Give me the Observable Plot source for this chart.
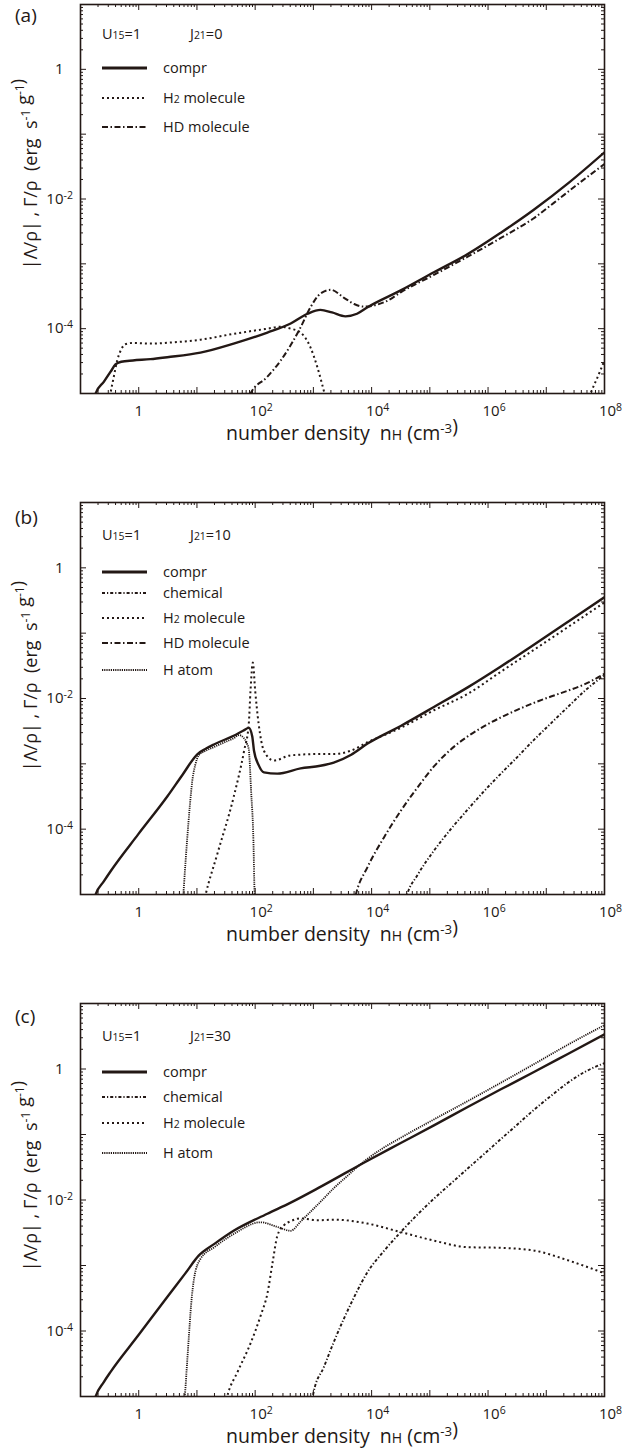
<!DOCTYPE html>
<html><head><meta charset="utf-8">
<script src="https://cdn.jsdelivr.net/npm/d3@7"></script>
<script src="https://cdn.jsdelivr.net/npm/@observablehq/plot@0.6"></script>
<style>
body{margin:0;background:#fff;}
#root{position:relative;width:630px;}
.panel{position:relative;width:630px;overflow:hidden;}
.panel svg{display:block;}
</style></head><body><div id="root"></div>
<script>
const INK = "#231815";
const FONT = "'Open Sans','Noto Sans',sans-serif";
const NS = "http://www.w3.org/2000/svg";

// axis ticks
const xDomain = [0.1, 1e8];
const yDomain = [1e-5, 10];
const xTickValues = [1, 1e2, 1e4, 1e6, 1e8];
const xTickLabels = ["1", "10^2", "10^4", "10^6", "10^8"];
const yTickValues = [1, 1e-2, 1e-4];
const yTickLabels = ["1", "10^-2", "10^-4"];

// ---- panel (a) : log10(n), log10(value)
const a_compr_n = [-0.80,-0.74,-0.60,-0.48,-0.40,-0.30,-0.10,0.20,0.49,1.06,1.63,2.21,2.61,2.90,3.12,3.32,3.55,3.75,3.93,4.50,5.07,5.65,6.22,6.78,7.40,8.0];
const a_compr_v = [-5.2,-5.0,-4.82,-4.66,-4.55,-4.51,-4.49,-4.47,-4.44,-4.37,-4.23,-4.06,-3.92,-3.77,-3.71,-3.75,-3.81,-3.77,-3.67,-3.41,-3.13,-2.85,-2.52,-2.17,-1.74,-1.28];
const a_h2_n = [-0.52,-0.485,-0.43,-0.37,-0.30,-0.23,-0.10,0.2,0.6,1.06,1.63,2.21,2.44,2.61,2.78,2.95,3.07,3.18,3.25];
const a_h2_v = [-5.2,-5.0,-4.75,-4.49,-4.32,-4.24,-4.22,-4.23,-4.21,-4.17,-4.08,-4.00,-3.97,-4.00,-4.06,-4.29,-4.60,-4.96,-5.2];
const a_h2hi_n = [7.68,7.76,7.88,8.0];
const a_h2hi_v = [-5.2,-5.0,-4.75,-4.49];
const a_hd_n = [1.85,1.92,2.20,2.44,2.78,2.95,3.12,3.30,3.52,3.70,3.86,4.05,4.27,4.50,5.07,5.65,6.22,6.78,7.13,7.5,8.0];
const a_hd_v = [-5.2,-5.0,-4.75,-4.49,-3.98,-3.67,-3.46,-3.40,-3.52,-3.62,-3.66,-3.64,-3.57,-3.44,-3.17,-2.89,-2.60,-2.30,-2.06,-1.80,-1.46];

// ---- panel (b)
const b_compr_n = [-0.80,-0.74,-0.60,-0.48,-0.01,0.49,0.75,1.01,1.15,1.30,1.63,1.80,1.89,1.95,1.98,2.06,2.15,2.38,2.78,3.12,3.35,3.65,3.93,4.50,5.07,5.65,6.22,6.78,7.40,8.0];
const b_compr_v = [-5.2,-5.0,-4.80,-4.64,-4.08,-3.50,-3.17,-2.85,-2.77,-2.70,-2.57,-2.49,-2.45,-2.58,-2.80,-3.02,-3.13,-3.15,-3.07,-3.03,-2.98,-2.86,-2.69,-2.42,-2.13,-1.83,-1.51,-1.18,-0.81,-0.45];
const b_hatom_n = [0.72,0.765,0.80,0.83,0.88,0.92,0.97,1.03,1.15,1.30,1.50,1.63,1.72,1.80,1.86,1.89,1.93,1.97,1.99,2.01];
const b_hatom_v = [-5.2,-5.0,-4.55,-4.18,-3.62,-3.26,-3.02,-2.87,-2.80,-2.74,-2.66,-2.61,-2.56,-2.60,-2.69,-2.78,-3.41,-4.18,-5.0,-5.3];
const b_h2_n = [1.10,1.15,1.35,1.63,1.81,1.89,1.92,1.96,2.00,2.06,2.15,2.32,2.61,3.12,3.35,3.64,3.93,4.50,5.07,5.65,6.22,6.78,7.40,8.0];
const b_h2_v = [-5.2,-5.0,-4.38,-3.51,-2.80,-2.39,-1.88,-1.45,-1.88,-2.39,-2.80,-2.95,-2.87,-2.85,-2.85,-2.80,-2.67,-2.45,-2.18,-1.93,-1.59,-1.26,-0.89,-0.53];
const b_hd_n = [3.68,3.73,3.93,4.21,4.50,4.79,5.07,5.36,5.65,5.92,6.22,6.51,6.78,7.08,7.37,7.64,8.0];
const b_hd_v = [-5.2,-5.0,-4.58,-4.13,-3.72,-3.36,-3.04,-2.78,-2.58,-2.43,-2.29,-2.17,-2.07,-1.97,-1.88,-1.79,-1.62];
const b_chem_n = [4.55,4.61,4.79,5.07,5.36,5.65,5.92,6.22,6.51,6.78,7.08,7.37,7.64,8.0];
const b_chem_v = [-5.2,-5.0,-4.70,-4.33,-4.00,-3.70,-3.43,-3.15,-2.89,-2.64,-2.38,-2.13,-1.90,-1.64];

// ---- panel (c)
const c_compr_n = [-0.80,-0.74,-0.60,-0.48,-0.01,0.49,0.80,1.03,1.30,1.63,2.21,2.61,3.12,3.93,4.50,5.07,5.65,6.22,6.78,7.37,8.0];
const c_compr_v = [-5.2,-5.0,-4.78,-4.62,-4.07,-3.48,-3.12,-2.85,-2.67,-2.47,-2.21,-2.04,-1.80,-1.40,-1.13,-0.86,-0.58,-0.31,-0.05,0.23,0.53];
const c_hatom_n = [0.74,0.79,0.83,0.86,0.90,0.95,1.06,1.30,1.63,2.09,2.38,2.61,2.78,2.95,3.12,3.35,3.60,3.80,3.93,4.21,4.50,5.07,5.65,6.22,6.78,7.37,8.0];
const c_hatom_v = [-5.2,-5.0,-4.5,-4.1,-3.6,-3.2,-2.90,-2.72,-2.52,-2.34,-2.41,-2.47,-2.33,-2.18,-2.03,-1.82,-1.62,-1.46,-1.37,-1.20,-1.05,-0.77,-0.49,-0.21,0.07,0.37,0.67];
const c_h2_n = [1.47,1.52,1.70,1.92,2.10,2.21,2.30,2.38,2.49,2.62,2.78,3.07,3.35,3.93,4.50,5.07,5.65,6.22,6.78,7.37,8.0];
const c_h2_v = [-5.2,-5.0,-4.62,-4.19,-3.75,-3.43,-2.95,-2.55,-2.39,-2.32,-2.28,-2.31,-2.30,-2.36,-2.49,-2.62,-2.72,-2.73,-2.77,-2.92,-3.12];
const c_chem_n = [2.97,3.00,3.18,3.35,3.52,3.69,3.93,4.21,4.50,4.79,5.07,5.36,5.65,5.93,6.22,6.50,6.78,7.08,7.37,7.65,8.0];
const c_chem_v = [-5.1,-4.95,-4.55,-4.17,-3.82,-3.50,-3.10,-2.78,-2.49,-2.22,-1.98,-1.75,-1.52,-1.30,-1.07,-0.85,-0.63,-0.41,-0.21,-0.05,0.09];

const STYLE = {
  compr:    {label: ["compr"],               w: 2.4, dash: null},
  chemical: {label: ["chemical"],            w: 1.9, dash: "3,2,1.2,2"},
  h2:       {label: ["H", "2", " molecule"], w: 2.0, dash: "2,3"},
  hd:       {label: ["HD molecule"],         w: 2.0, dash: "6,2.5,1.5,2.5"},
  hatom:    {label: ["H atom"],              w: 1.8, dash: "1.2,1"}
};

function table(ns, vs) { return ns.map((n, i) => ({n: 10 ** n, v: 10 ** vs[i]})); }

const panels = [
  {letter: "(a)", height: 500, mt: 4, mb: 107, J: "0", headerY: 34, letterY: 15, yTitleY: 174,
   series: [["hd", [table(a_hd_n, a_hd_v)]], ["h2", [table(a_h2_n, a_h2_v), table(a_h2hi_n, a_h2hi_v)]], ["compr", [table(a_compr_n, a_compr_v)]]],
   legend: ["compr", "h2", "hd"], legendY: [68, 98, 127]},
  {letter: "(b)", height: 500, mt: 2, mb: 106, J: "10", headerY: 35, letterY: 17, yTitleY: 176,
   series: [["chemical", [table(b_chem_n, b_chem_v)]], ["hd", [table(b_hd_n, b_hd_v)]], ["hatom", [table(b_hatom_n, b_hatom_v)]], ["h2", [table(b_h2_n, b_h2_v)]], ["compr", [table(b_compr_n, b_compr_v)]]],
   legend: ["compr", "chemical", "h2", "hd", "hatom"], legendY: [72, 93, 118, 143, 170]},
  {letter: "(c)", height: 453, mt: 3, mb: 57, J: "30", headerY: 36, letterY: 16, yTitleY: 176,
   series: [["chemical", [table(c_chem_n, c_chem_v)]], ["h2", [table(c_h2_n, c_h2_v)]], ["hatom", [table(c_hatom_n, c_hatom_v)]], ["compr", [table(c_compr_n, c_compr_v)]]],
   legend: ["compr", "chemical", "h2", "hatom"], legendY: [72, 97, 123, 153]}
];

const isDecade = d => Math.abs(Math.log10(d) - Math.round(Math.log10(d))) < 1e-9;
const allX = d3.scaleLog().domain(xDomain).ticks();
const allY = d3.scaleLog().domain(yDomain).ticks();
const majX = allX.filter(isDecade), minX = allX.filter(d => !isDecade(d));
const majY = allY.filter(isDecade), minY = allY.filter(d => !isDecade(d));

const W = 630, ML = 80, MR = 26;

function el(name, attrs, parent) {
  const e = document.createElementNS(NS, name);
  for (const k in attrs) e.setAttribute(k, attrs[k]);
  if (parent) parent.appendChild(e);
  return e;
}
function richText(parent, attrs, parts) {
  const t = el("text", Object.assign({"text-anchor": "start"}, attrs), parent);
  t.style.whiteSpace = "pre";
  for (const [s, kind] of parts) {
    const ts = el("tspan", {}, t);
    if (kind === "sup") { ts.setAttribute("font-size", "0.68em"); ts.setAttribute("dy", "-0.55em"); }
    if (kind === "small") { ts.setAttribute("font-size", "0.72em"); }
    ts.textContent = s;
    if (kind === "sup") { const b = el("tspan", {dy: "0.374em"}, t); b.textContent = ""; }
  }
  return t;
}

const root = document.getElementById("root");
for (const p of panels) {
  const ph = p.height - p.mt - p.mb, pw = W - ML - MR;
  const marks = [
    Plot.tickX(majX, {x: d => d, insetTop: ph - 6, stroke: INK, strokeWidth: 1}),
    Plot.tickX(majX, {x: d => d, insetBottom: ph - 6, stroke: INK, strokeWidth: 1}),
    Plot.tickX(minX, {x: d => d, insetTop: ph - 3, stroke: INK, strokeWidth: 1}),
    Plot.tickX(minX, {x: d => d, insetBottom: ph - 3, stroke: INK, strokeWidth: 1}),
    Plot.tickY(majY, {y: d => d, insetRight: pw - 6, stroke: INK, strokeWidth: 1}),
    Plot.tickY(majY, {y: d => d, insetLeft: pw - 6, stroke: INK, strokeWidth: 1}),
    Plot.tickY(minY, {y: d => d, insetRight: pw - 3, stroke: INK, strokeWidth: 1}),
    Plot.tickY(minY, {y: d => d, insetLeft: pw - 3, stroke: INK, strokeWidth: 1})
  ];
  for (const [key, segs] of p.series) {
    const s = STYLE[key];
    for (const data of segs) {
      marks.push(Plot.line(data, {x: "n", y: "v", curve: "monotone-x", clip: true,
        stroke: INK, strokeWidth: s.w, strokeDasharray: s.dash, strokeLinecap: "butt"}));
    }
  }
  marks.push(Plot.frame({stroke: INK, strokeWidth: 1.6}));

  const svg = Plot.plot({
    width: W, height: p.height,
    marginLeft: ML, marginRight: MR, marginTop: p.mt, marginBottom: p.mb,
    style: {fontFamily: FONT, fontSize: "15px", color: INK, background: "white", overflow: "visible"},
    x: {type: "log", domain: xDomain, ticks: xTickValues, tickFormat: d => xTickLabels[xTickValues.indexOf(d)], tickSize: 0, tickPadding: 12, label: null},
    y: {type: "log", domain: yDomain, ticks: yTickValues, tickFormat: d => yTickLabels[yTickValues.indexOf(d)], tickSize: 0, tickPadding: 17, label: null},
    marks
  });
  const div = document.createElement("div");
  div.className = "panel";
  div.style.height = p.height + "px";
  div.appendChild(svg);
  root.appendChild(div);

  // tick labels: font and superscripts
  svg.querySelectorAll("text").forEach(t => {
    const s = t.textContent;
    if (!/^(1|10\^.+)$/.test(s)) return;
    t.style.fontSize = "15px";
    t.style.fontFamily = FONT;
    t.style.fill = INK;
    const m = /^10\^(.+)$/.exec(s);
    if (!m) return;
    const box = t.getBBox();
    const isY = box.x + box.width < ML + 1;
    t.textContent = "10";
    const ts = el("tspan", {dy: "-0.5em"}, t);
    ts.style.fontSize = "10.5px";
    ts.textContent = m[1];
    const w = ts.getComputedTextLength();
    t.setAttribute("dx", isY ? w : w / 2);
  });

  const g = el("g", {fill: INK, "font-family": FONT, "text-anchor": "start"}, svg);
  richText(g, {x: 15, y: p.letterY + 7, "font-size": 19}, [[p.letter, null]]);
  richText(g, {transform: `translate(37,${p.yTitleY}) rotate(-90)`, "text-anchor": "middle", "font-size": 18},
    [["|Λ/ρ| , Γ/ρ  (erg  s", null], ["-1", "sup"], [" g", null], ["-1", "sup"], [")", null]]);
  const fb = p.height - p.mb;
  richText(g, {x: ML + pw / 2, y: fb + 47, "text-anchor": "middle", "font-size": 19.5},
    [["number density  n", null], ["H", "small"], [" (cm", null], ["-3", "sup"], [")", null]]);
  richText(g, {x: 102, y: p.headerY + 5, "font-size": 14.5}, [["U", null], ["15", "small"], ["=1", null]]);
  richText(g, {x: 190, y: p.headerY + 5, "font-size": 14.5}, [["J", null], ["21", "small"], ["=" + p.J, null]]);
  p.legend.forEach((key, i) => {
    const s = STYLE[key], yc = p.legendY[i];
    const ln = el("line", {x1: 102, x2: 147, y1: yc, y2: yc, stroke: INK, "stroke-width": key === "compr" ? 2.8 : s.w}, g);
    if (s.dash) ln.setAttribute("stroke-dasharray", s.dash);
    const parts = s.label.length === 3 ? [[s.label[0], null], [s.label[1], "small"], [s.label[2], null]] : [[s.label[0], null]];
    richText(g, {x: 163, y: yc + 5, "font-size": 14.5}, parts);
  });
}
</script></body></html>
